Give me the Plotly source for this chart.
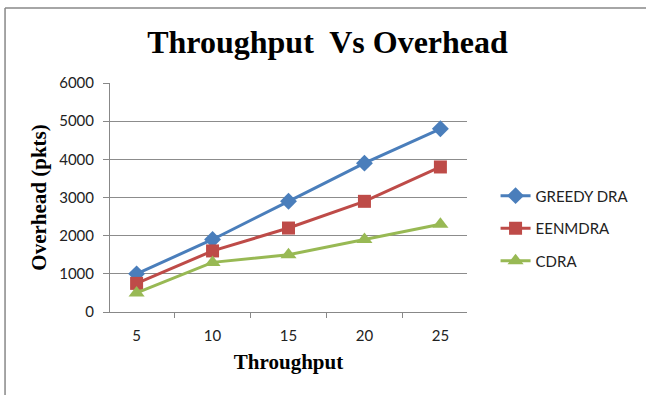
import plotly.graph_objects as go

categories = ["5", "10", "15", "20", "25"]
greedy_dra = [1000, 1900, 2900, 3900, 4800]
eenmdra = [750, 1600, 2200, 2900, 3800]
cdra = [500, 1300, 1500, 1900, 2300]
y_ticks = [0, 1000, 2000, 3000, 4000, 5000, 6000]

fig = go.Figure()
series = [
    ("GREEDY DRA", greedy_dra, "#4A7EBB", "diamond", 13),
    ("EENMDRA", eenmdra, "#BE4B48", "square", 13),
    ("CDRA", cdra, "#98B954", "triangle-up", 14),
]
for i, (name, vals, color, sym, size) in enumerate(series):
    fig.add_trace(go.Scatter(
        x=categories, y=vals, name=name, mode="lines+markers",
        legendgroup="g%d" % i,
        line=dict(color=color, width=3),
        marker=dict(symbol=sym, size=size, color=color),
    ))

fig.update_layout(
    width=646, height=395,
    margin=dict(l=110, r=176, t=83, b=83),
    paper_bgcolor="white", plot_bgcolor="white",
    title=dict(text="<b>Throughput  Vs Overhead</b>", x=0.507, xanchor="center",
               xref="container", yref="container", y=0.894, yanchor="middle",
               font=dict(family="Liberation Serif", size=32, color="black")),
    showlegend=True,
    legend=dict(x=1.08, y=0.365, xanchor="left", yanchor="middle",
                font=dict(family="Lato", size=15, color="#222"),
                tracegroupgap=10, bgcolor="rgba(0,0,0,0)"),
    font=dict(family="Lato", size=15, color="#222"),
)
fig.update_xaxes(
    type="category", tickson="boundaries", ticks="outside", ticklen=5,
    tickcolor="#888", showline=True, linecolor="#888", linewidth=1,
    showgrid=False, tickfont=dict(family="Lato", size=15, color="#222"),
    ticklabelstandoff=10,
    title=dict(text="<b>Throughput</b>", standoff=11,
               font=dict(family="Liberation Serif", size=21, color="black")),
)
fig.update_yaxes(
    range=[0, 6000], tickvals=y_ticks, ticks="outside", ticklen=6,
    tickcolor="#888", showline=True, linecolor="#888", linewidth=1,
    showgrid=True, gridcolor="#8c8c8c", gridwidth=1, zeroline=False,
    tickfont=dict(family="Lato", size=15, color="#222"),
    ticklabelstandoff=6,
    title=dict(text="<b>Overhead (pkts)</b>", standoff=6,
               font=dict(family="Liberation Serif", size=21, color="black")),
)
# outer chart border (top and left edges visible in the reference)
fig.add_shape(type="line", xref="paper", yref="paper",
              x0=-0.294, x1=1.6, y0=1.327, y1=1.327,
              line=dict(color="#888", width=1.5), layer="above")
fig.add_shape(type="line", xref="paper", yref="paper",
              x0=-0.294, x1=-0.294, y0=-0.6, y1=1.327,
              line=dict(color="#888", width=1.5), layer="above")
fig.write_html("out.html", config={"displayModeBar": False},
               post_script="document.body.style.margin='0';")
